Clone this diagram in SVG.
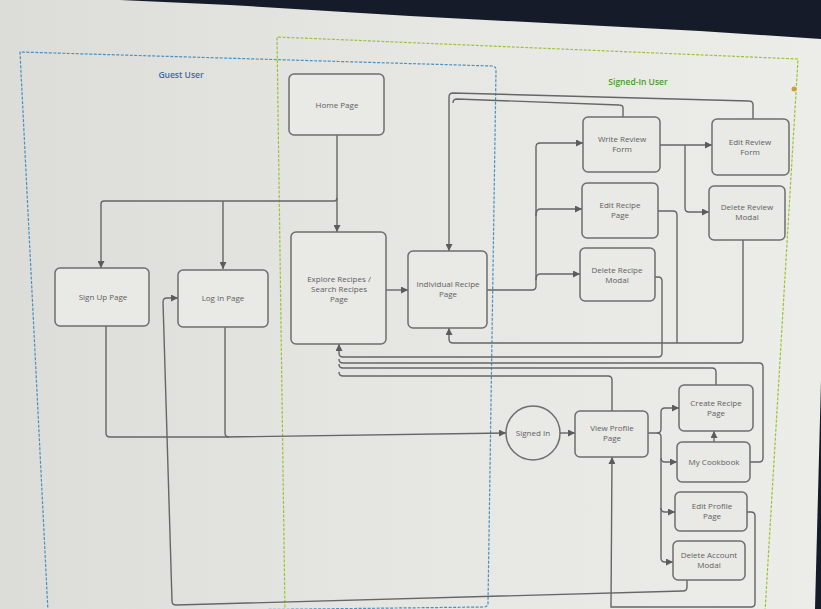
<svg xmlns="http://www.w3.org/2000/svg" width="821" height="609" viewBox="0 0 821 609">
<defs>
<linearGradient id="bg" x1="0" y1="0" x2="1" y2="0">
<stop offset="0" stop-color="#dcdcd8"/>
<stop offset="0.5" stop-color="#e6e6e2"/>
<stop offset="1" stop-color="#ecece8"/>
</linearGradient>
<marker id="arr" viewBox="0 0 8 8" refX="8" refY="4" markerWidth="7" markerHeight="7" markerUnits="userSpaceOnUse" orient="auto">
<path d="M0,0 L8,4 L0,8 z" fill="#5c5c5c"/>
</marker>
<style>
.node{fill:#e9e9e6;stroke:#6e6e6e;stroke-width:1.5}
.lbl{font-family:"Open Sans","Noto Sans",sans-serif;font-size:8px;fill:#606060;text-anchor:middle}
.conn{fill:none;stroke:#666;stroke-width:1.4}
.title{font-family:"Open Sans","Noto Sans",sans-serif;font-size:8.5px;font-weight:600;text-anchor:middle}
</style>
</defs>
<rect x="0" y="0" width="821" height="609" fill="url(#bg)"/>
<path d="M120,0 L821,0 L821,39 L700,31 L410,16 L230,5 Z" fill="#151b29"/>
<path d="M821,380 L815,609 L821,609 Z" fill="#151b29"/>

<g id="containers">
<path d="M48,612 L20,52 L492,66 Q496,66 496,70 L488,603 Q488,607 484,607 L48,612" fill="none" stroke="#4a90c2" stroke-width="1.2" stroke-dasharray="3,1.5"/>
<path d="M285,612 L277,37 L798,59 L765,612" fill="none" stroke="#9cc23c" stroke-width="1.2" stroke-dasharray="3,1.5"/>
<text class="title" x="181" y="78" fill="#2f6fb0">Guest User</text>
<text class="title" x="638" y="85" fill="#4a9a2a">Signed-In User</text>
<circle cx="794" cy="89" r="2.5" fill="#c8a040"/>
</g>

<g id="connectors">
<path class="conn" d="M337,135 V232" marker-end="url(#arr)"/>
<path class="conn" d="M337,198 Q337,201 334,201 H104 Q101,201 101,204 V268" marker-end="url(#arr)"/>
<path class="conn" d="M223,201 V269" marker-end="url(#arr)"/>
<path class="conn" d="M386,290 H408" marker-end="url(#arr)"/>
<path class="conn" d="M487,290 H532 Q536,290 536,286 V147 Q536,143 540,143 H583" marker-end="url(#arr)"/>
<path class="conn" d="M536,216 Q536,209 540,209 H582" marker-end="url(#arr)"/>
<path class="conn" d="M536,280 Q536,274 540,274 H580" marker-end="url(#arr)"/>
<path class="conn" d="M660,145 H712" marker-end="url(#arr)"/>
<path class="conn" d="M685,145 V208 Q685,212 689,212 H709" marker-end="url(#arr)"/>
<path class="conn" d="M753,119 V105 Q753,101 749,101 L453,93 Q449,93 449,97 V251" marker-end="url(#arr)"/>
<path class="conn" d="M623,117 V108 Q623,105 619,105 L457,99 Q453,99 453,103"/>
<path class="conn" d="M658,211 H673 Q677,211 677,215 V343"/>
<path class="conn" d="M743,240 V339 Q743,343 739,343 H453 Q449,343 449,339 V328" marker-end="url(#arr)"/>
<path class="conn" d="M655,277 H658 Q662,277 662,281 V353 Q662,357 658,357 H343 Q339,357 339,353 V344" marker-end="url(#arr)"/>
<path class="conn" d="M750,462 H759 Q763,462 763,458 V367 Q763,363 759,363 H343 Q339,363 339,359"/>
<path class="conn" d="M716,385 V372 Q716,368 712,368 H343 Q339,368 339,364"/>
<path class="conn" d="M612,411 V380 Q612,376 608,376 H343 Q339,376 339,372"/>
<path class="conn" d="M106,326 V433 Q106,437 110,437 L226,437 L506,433" marker-end="url(#arr)"/>
<path class="conn" d="M225,327 V433 Q225,437 229,437"/>
<path class="conn" d="M560,433 H575" marker-end="url(#arr)"/>
<path class="conn" d="M648,433 H657 Q661,433 661,429 V412 Q661,408 665,408 H679" marker-end="url(#arr)"/>
<path class="conn" d="M657,433 Q661,433 661,437 V458 Q661,462 665,462 H677" marker-end="url(#arr)"/>
<path class="conn" d="M661,458 V508 Q661,512 665,512 H675" marker-end="url(#arr)"/>
<path class="conn" d="M661,508 V558 Q661,562 665,562 H673" marker-end="url(#arr)"/>
<path class="conn" d="M714,442 V431" marker-end="url(#arr)"/>
<path class="conn" d="M747,512 H751 Q755,512 755,516 V603 Q755,607 751,607 H611 L612,457" marker-end="url(#arr)"/>
<path class="conn" d="M687,580 V587 Q687,591 683,591 L176,605 Q172,605 172,601 L163,302 Q163,298 167,298 H178" marker-end="url(#arr)"/>
</g>

<g id="home"><rect class="node" x="289" y="74" width="95" height="61" rx="5"/><text class="lbl" x="337" y="108">Home Page</text></g>
<g id="explore"><rect class="node" x="291" y="232" width="95" height="112" rx="5"/><text class="lbl" x="339" y="282">Explore Recipes /</text><text class="lbl" x="339" y="292">Search Recipes</text><text class="lbl" x="339" y="302">Page</text></g>
<g id="individual"><rect class="node" x="408" y="251" width="79" height="77" rx="5"/><text class="lbl" x="448" y="287">Individual Recipe</text><text class="lbl" x="448" y="297">Page</text></g>
<g id="signup"><rect class="node" x="55" y="268" width="94" height="58" rx="5"/><text class="lbl" x="103" y="300">Sign Up Page</text></g>
<g id="login"><rect class="node" x="178" y="270" width="90" height="57" rx="5"/><text class="lbl" x="223" y="301">Log In Page</text></g>
<g id="writereview"><rect class="node" x="583" y="117" width="77" height="55" rx="5"/><text class="lbl" x="622" y="142">Write Review</text><text class="lbl" x="622" y="152">Form</text></g>
<g id="editrecipe"><rect class="node" x="582" y="183" width="76" height="55" rx="5"/><text class="lbl" x="620" y="208">Edit Recipe</text><text class="lbl" x="620" y="218">Page</text></g>
<g id="deleterecipe"><rect class="node" x="580" y="248" width="75" height="53" rx="5"/><text class="lbl" x="617" y="273">Delete Recipe</text><text class="lbl" x="617" y="283">Modal</text></g>
<g id="editreview"><rect class="node" x="712" y="119" width="77" height="56" rx="5"/><text class="lbl" x="750" y="145">Edit Review</text><text class="lbl" x="750" y="155">Form</text></g>
<g id="deletereview"><rect class="node" x="709" y="186" width="76" height="54" rx="5"/><text class="lbl" x="747" y="210">Delete Review</text><text class="lbl" x="747" y="220">Modal</text></g>
<g id="signedin"><circle class="node" cx="533" cy="433" r="27"/><text class="lbl" x="533" y="436">Signed In</text></g>
<g id="viewprofile"><rect class="node" x="575" y="411" width="73" height="46" rx="5"/><text class="lbl" x="612" y="431">View Profile</text><text class="lbl" x="612" y="441">Page</text></g>
<g id="createrecipe"><rect class="node" x="679" y="385" width="74" height="46" rx="5"/><text class="lbl" x="716" y="406">Create Recipe</text><text class="lbl" x="716" y="416">Page</text></g>
<g id="cookbook"><rect class="node" x="677" y="442" width="73" height="40" rx="5"/><text class="lbl" x="714" y="465">My Cookbook</text></g>
<g id="editprofile"><rect class="node" x="675" y="492" width="72" height="39" rx="5"/><text class="lbl" x="712" y="509">Edit Profile</text><text class="lbl" x="712" y="519">Page</text></g>
<g id="deleteaccount"><rect class="node" x="673" y="541" width="72" height="39" rx="5"/><text class="lbl" x="709" y="558">Delete Account</text><text class="lbl" x="709" y="568">Modal</text></g>
</svg>
